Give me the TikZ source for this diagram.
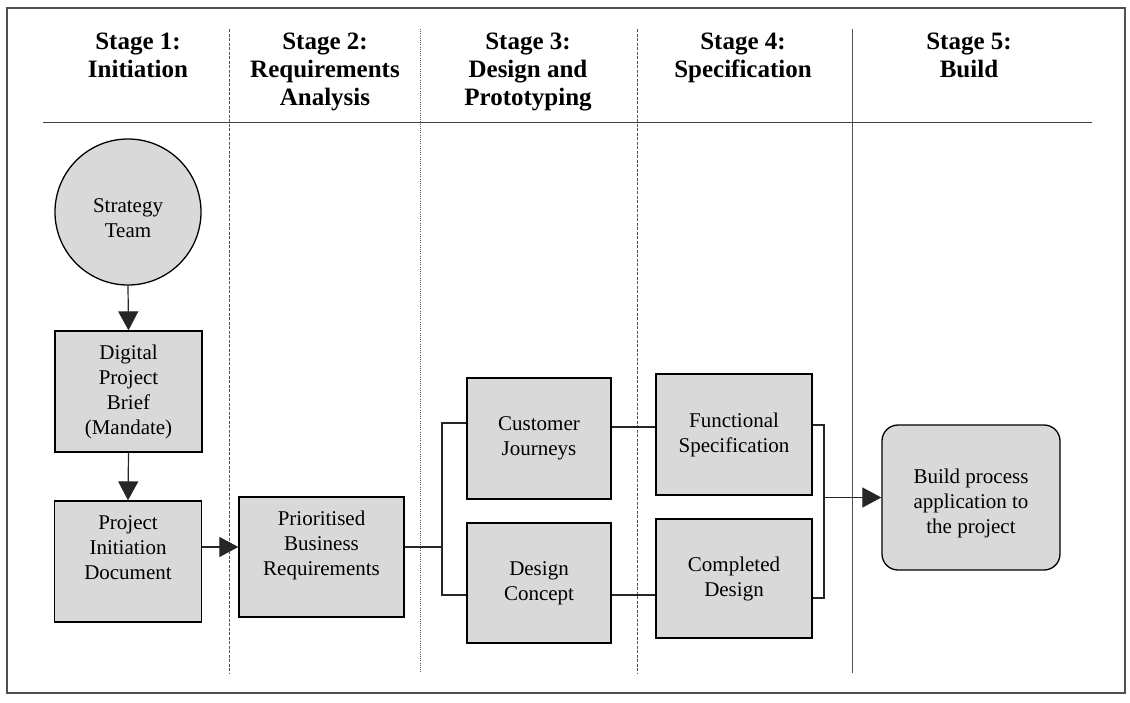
\documentclass[tikz,border=0pt]{standalone}
\usepackage{fontspec}
\setmainfont{Liberation Serif}
\usetikzlibrary{arrows.meta,calc}
\definecolor{boxgray}{HTML}{D9D9D9}
\definecolor{framegray}{HTML}{505050}
\definecolor{divgray}{HTML}{555555}
\begin{document}
\begin{tikzpicture}[x=1pt,y=-1pt,
  hdr/.style={font=\fontsize{25}{28}\selectfont\bfseries, align=center, anchor=north, inner sep=0pt},
  proc/.style={draw=black, line width=1.3pt, fill=boxgray, inner sep=0pt, align=center,
               font=\fontsize{21}{25}\selectfont},
  lbl/.style={align=center, font=\fontsize{21}{25}\selectfont, inner sep=0pt},
  conn/.style={line width=1.2pt, draw=black!85},
  arr/.style={conn, -{Triangle[width=20pt,length=19pt]}},
  divdash/.style={line width=0.9pt, draw=divgray, dash pattern=on 3pt off 1.5pt},
  divdot/.style={line width=1pt, draw=divgray, dash pattern=on 1pt off 1.2pt},
  divsolid/.style={line width=0.9pt, draw=divgray}
]
\useasboundingbox[fill=white] (0,0) rectangle (1130,702);
% outer frame
\draw[line width=1.6pt, draw=framegray] (7,8) rectangle (1125,693);
% header rule
\draw[line width=1pt, draw=black!75] (43,122) -- (1092,122);
% dividers
\draw[divdash] (229,29) -- (229,673);
\draw[divdot] (420,29) -- (420,673);
\draw[divdash] (637,29) -- (637,673);
\draw[divsolid] (852,29) -- (852,673);
% headers
\node[hdr] (h1) at (138,33) {Stage 1:\\Initiation};
\node[hdr] (h2) at (325,33) {Stage 2:\\Requirements\\Analysis};
\node[hdr] (h3) at (528,33) {Stage 3:\\Design and\\Prototyping};
\node[hdr] (h4) at (743,33) {Stage 4:\\Specification};
\node[hdr] (h5) at (969,33) {Stage 5:\\Build};
% nodes
\node[proc, circle, minimum size=146pt,
      label={[lbl,yshift=-6pt]center:Strategy\\Team}] (st) at (128,212) {};
\node[proc, minimum width=147pt, minimum height=121pt] (dpb) at (128.5,391.5)
      {Digital\\Project\\Brief\\(Mandate)};
\node[proc, minimum width=147pt, minimum height=121pt,
      label={[lbl,yshift=13.5pt]center:Project\\Initiation\\Document}] (pid) at (128,561.5) {};
\node[proc, minimum width=165pt, minimum height=120pt,
      label={[lbl,yshift=12pt]center:Prioritised\\Business\\Requirements}] (pbr) at (321.5,557) {};
\node[proc, minimum width=144pt, minimum height=121pt] (cj) at (539,438.5) {Customer\\Journeys};
\node[proc, minimum width=144pt, minimum height=120pt] (dc) at (539,583) {Design\\Concept};
\node[proc, minimum width=156pt, minimum height=121pt] (fs) at (734,434.5) {Functional\\Specification};
\node[proc, minimum width=156pt, minimum height=119pt] (cd) at (734,578.5) {Completed\\Design};
\node[proc, rounded corners=16pt, minimum width=178pt, minimum height=145pt,
      label={[lbl,yshift=-5.5pt]center:Build process\\application to\\the project}] (bp) at (971,497.5) {};
% connectors
\draw[arr] (st.south) -- (dpb.north);
\draw[arr] (dpb.south) -- (pid.north);
\draw[arr] ([yshift=14.5pt]pid.east) -- ([yshift=10pt]pbr.west);
\coordinate (jl) at (442,547);
\draw[conn] ([yshift=10pt]pbr.east) -- (jl);
\draw[conn] ([yshift=15.5pt]cj.west) -| (jl) |- ([yshift=-12pt]dc.west);
\draw[conn] ([yshift=11.5pt]cj.east) -- ([yshift=7.5pt]fs.west);
\draw[conn] ([yshift=-12pt]dc.east) -- ([yshift=-16.5pt]cd.west);
\coordinate (jr) at (824,497.5);
\draw[conn] ([yshift=9.5pt]fs.east) -| (jr) |- ([yshift=-19.5pt]cd.east);
\draw[arr] (jr) -- (bp.west);
\end{tikzpicture}
\end{document}
